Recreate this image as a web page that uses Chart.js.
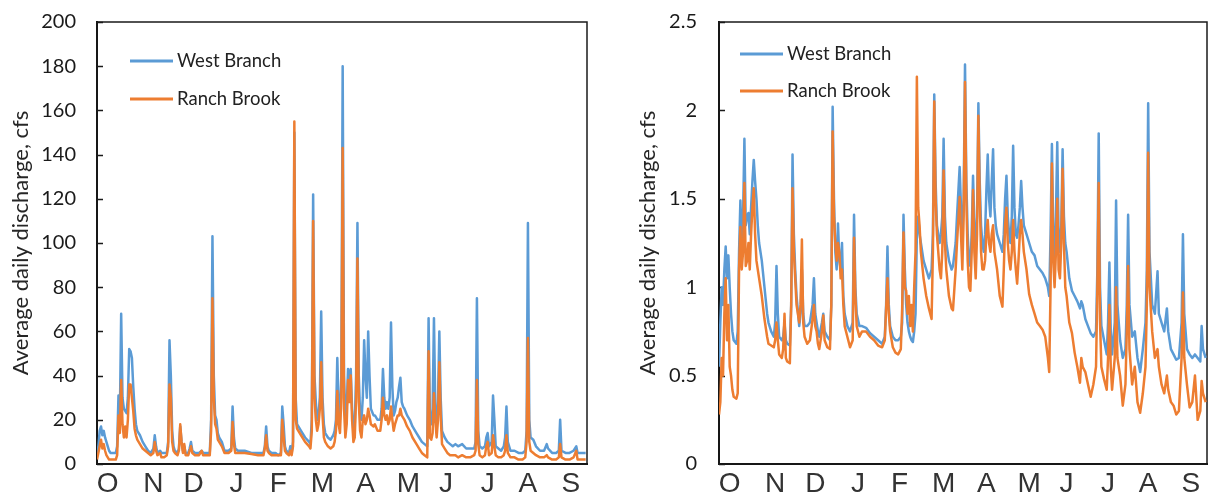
<!DOCTYPE html>
<html>
<head>
<meta charset="utf-8">
<script src="https://cdn.jsdelivr.net/npm/chart.js@4.4.1/dist/chart.umd.min.js"></script>
<style>
  html, body { margin: 0; padding: 0; background: #fff; }
  body { width: 1208px; height: 497px; position: relative; overflow: hidden; }
  canvas { position: absolute; top: 0; }
  #leftChart { left: 0; }
  #rightChart { left: 604px; }
</style>
</head>
<body>
<canvas id="leftChart" width="604" height="497"></canvas>
<canvas id="rightChart" width="604" height="497"></canvas>
<script>
// Month labels and where they sit (day of water year, Oct 1 = 0)
const months = ['O', 'N', 'D', 'J', 'F', 'M', 'A', 'M', 'J', 'J', 'A', 'S'];
const monthDays = [8, 42, 72, 104, 135, 168, 200, 232, 260, 291, 321, 353];

// Left panel: average daily discharge, cfs
const leftDays = [0,1,2,3,4,5,6,7,8,9,10,12,14,15,16,17,18,19,20,21,22,23,24,25,26,27,28,29,30,32,34,36,38,40,42,43,44,45,47,48,50,52,53,54,55,56,57,58,60,61,62,63,64,65,66,68,69,70,71,73,76,78,79,82,84,85,86,87,88,89,90,91,93,95,98,100,101,102,103,105,110,115,120,124,125,126,127,128,130,133,135,137,138,139,140,141,143,144,145,146,147,148,149,150,152,155,158,159,160,161,162,163,164,165,166,167,168,169,170,172,174,176,177,178,179,180,181,182,183,184,185,186,187,188,189,190,191,192,193,194,195,196,197,198,199,200,201,202,203,204,206,207,209,211,212,213,214,215,216,217,218,219,220,221,222,223,224,225,226,227,228,229,231,233,235,238,240,242,244,246,247,248,249,250,251,252,253,254,255,256,257,259,261,263,265,267,269,272,275,278,281,282,283,284,285,287,289,290,291,292,294,295,296,297,299,301,303,304,305,306,308,311,314,317,319,320,321,322,323,325,327,330,333,335,336,339,342,344,345,346,349,352,355,357,358,361,364];
const leftWest = [4,8,15,17,13,15,12,10,8,6,5,5,5,8,31,20,68,30,25,24,23,30,52,51,48,35,25,18,15,13,10,8,6,5,7,13,8,5,6,5,5,5,10,56,40,15,8,6,5,7,17,10,6,8,5,5,7,10,6,5,5,6,5,5,5,20,103,40,22,20,14,12,10,6,6,7,26,12,7,6,6,5,5,5,8,17,8,6,5,5,4,5,26,18,8,6,5,8,5,10,150,30,18,17,15,12,10,9,20,122,40,28,20,22,30,69,30,18,14,12,11,13,15,20,48,25,20,40,180,40,22,25,43,35,43,25,15,18,40,109,40,22,20,30,56,40,30,60,40,25,22,22,20,20,25,43,30,25,28,25,30,64,35,22,24,28,30,35,39,28,26,25,22,20,17,14,12,10,9,8,66,20,18,25,66,25,18,28,60,30,15,12,10,9,8,9,8,9,7,7,7,10,75,15,8,7,8,12,14,8,10,31,20,8,7,6,8,12,26,10,6,6,5,5,6,15,109,20,12,11,8,6,6,9,7,5,5,6,20,6,5,5,6,8,5,5,5];
const leftRanch = [2,5,8,11,7,9,6,4,3,2,2,2,2,4,22,14,38,18,12,17,12,20,36,36,30,24,16,13,11,9,7,6,5,4,5,10,6,4,5,3,3,4,8,36,30,10,6,5,4,6,18,10,5,9,4,4,6,8,5,4,4,6,4,4,4,15,75,30,18,16,11,10,8,5,5,6,19,9,5,5,5,4.5,4,4,7,13,6,5,4,4,4,4,20,12,6,5,4,6,4,8,155,20,16,15,13,10,8,7,15,110,30,20,15,18,25,46,22,12,10,8,7,8,10,15,33,18,14,30,143,25,12,18,38,28,40,20,10,12,30,93,28,15,12,20,22,18,20,25,22,18,17,18,15,15,20,30,22,20,22,18,20,26,20,15,18,20,22,22,25,22,21,20,17,15,12,9,7,5,4,3,51,12,11,14,32,20,12,20,46,22,9,7,5,4,4,4,3,4,3,3,4,6,38,9,4,3,4,8,10,4,5,13,8,4,3,3,4,6,13,5,3,3,2,2,3,10,57,10,6,5,4,3,3,4,3,2,2,3,9,3,2,2,3,6,2,2,2];

// Right panel: average daily discharge, cfs
const rightDays = [0,1,2,3,4,5,6,7,8,9,10,11,13,14,15,16,17,18,19,20,21,22,23,24,25,26,27,28,29,30,32,34,36,37,39,41,42,43,44,45,47,48,49,50,51,53,54,55,56,57,58,60,61,62,63,64,66,68,70,71,72,73,74,75,77,78,79,81,83,84,85,86,87,88,89,90,91,92,93,94,96,98,100,101,102,103,105,107,110,113,116,119,122,124,125,126,127,128,130,132,134,136,137,138,139,140,141,142,143,144,145,146,147,148,149,150,151,153,155,157,159,160,161,162,163,164,165,166,167,168,169,170,172,174,175,177,178,180,181,182,183,184,185,186,187,188,189,190,191,192,193,194,195,196,197,198,199,200,201,202,203,204,205,206,207,208,210,212,213,214,215,216,217,218,219,220,221,222,223,224,225,226,227,228,230,232,234,236,238,240,242,244,246,247,248,249,250,251,252,253,254,255,256,257,258,259,260,262,264,266,268,270,271,272,274,276,278,280,282,283,284,285,286,288,290,291,292,293,294,296,297,298,300,302,304,305,306,307,309,311,313,315,317,319,320,321,322,324,326,328,329,331,333,335,336,338,340,342,344,346,347,348,350,352,354,356,358,360,361,362,364];
const rightWest = [0.55,0.8,1.0,0.9,1.1,1.23,1.05,1.18,1.0,0.85,0.75,0.7,0.68,0.75,1.2,1.49,1.25,1.4,1.84,1.35,1.4,1.42,1.3,1.45,1.6,1.72,1.6,1.5,1.35,1.25,1.15,1.0,0.85,0.8,0.75,0.72,0.8,1.12,0.85,0.72,0.7,0.72,0.8,0.7,0.68,0.67,0.9,1.75,1.3,1.1,0.95,0.78,0.85,1.1,0.85,0.78,0.78,0.8,0.9,1.05,0.85,0.8,0.75,0.72,0.8,0.85,0.75,0.72,0.7,0.9,2.02,1.5,1.2,1.1,1.36,1.15,1.1,1.25,0.95,0.85,0.78,0.75,0.8,1.41,1.0,0.85,0.78,0.78,0.77,0.74,0.72,0.7,0.68,0.72,0.9,1.23,0.9,0.78,0.72,0.7,0.7,0.72,0.8,1.41,1.1,0.9,0.8,0.75,0.72,0.7,0.69,0.75,0.85,1.3,1.4,1.3,1.25,1.15,1.1,1.05,1.1,1.3,2.09,1.6,1.35,1.3,1.25,1.3,1.4,1.84,1.4,1.25,1.15,1.1,1.12,1.25,1.4,1.68,1.45,1.3,1.5,2.26,1.6,1.3,1.15,1.12,1.3,1.63,1.35,1.2,1.4,2.04,1.6,1.35,1.25,1.2,1.3,1.55,1.75,1.5,1.4,1.6,1.78,1.45,1.35,1.3,1.25,1.2,1.3,1.5,1.63,1.4,1.3,1.25,1.4,1.8,1.45,1.3,1.28,1.35,1.45,1.6,1.45,1.35,1.3,1.25,1.2,1.18,1.12,1.1,1.08,1.05,1.0,0.95,1.3,1.81,1.3,1.15,1.4,1.82,1.3,1.2,1.35,1.78,1.4,1.25,1.2,1.05,0.98,0.95,0.92,0.88,0.92,0.9,0.82,0.78,0.74,0.72,0.75,1.1,1.87,1.0,0.78,0.7,0.62,0.8,1.14,0.75,0.62,0.8,1.49,0.9,0.7,0.6,0.65,0.9,1.41,0.9,0.72,0.75,0.6,0.52,0.65,0.8,1.1,2.04,1.2,0.9,0.85,1.09,0.85,0.8,0.75,0.88,0.75,0.65,0.62,0.59,0.6,0.8,1.3,0.85,0.65,0.62,0.6,0.62,0.6,0.58,0.78,0.65,0.6];
const rightRanch = [0.28,0.35,0.6,0.5,0.85,1.05,0.7,0.9,0.55,0.5,0.42,0.38,0.37,0.4,1.1,1.34,1.1,1.2,1.59,1.12,1.15,1.25,1.1,1.3,1.45,1.56,1.3,1.15,1.1,1.05,0.95,0.82,0.72,0.68,0.67,0.66,0.7,0.8,0.7,0.62,0.6,0.65,0.85,0.6,0.58,0.57,0.9,1.56,1.2,1.05,0.9,0.8,0.9,1.27,0.8,0.72,0.68,0.7,0.82,0.9,0.78,0.75,0.68,0.65,0.75,0.84,0.7,0.66,0.65,0.9,1.88,1.4,1.25,1.15,1.25,1.2,1.05,1.1,0.9,0.78,0.72,0.66,0.7,1.28,0.95,0.78,0.72,0.75,0.75,0.72,0.7,0.67,0.66,0.7,0.88,1.05,0.85,0.75,0.66,0.63,0.62,0.65,0.88,1.31,1.0,0.98,0.85,0.95,0.78,0.9,0.75,1.0,1.2,2.19,1.45,1.35,1.2,1.05,0.95,0.88,0.82,1.2,2.05,1.5,1.3,1.2,1.1,1.05,1.2,1.66,1.25,1.1,0.95,0.88,0.87,1.1,1.25,1.51,1.3,1.1,1.4,2.16,1.5,1.15,1.0,0.98,1.2,1.55,1.2,1.05,1.3,1.97,1.5,1.2,1.1,1.1,1.15,1.3,1.38,1.25,1.2,1.3,1.35,1.2,1.15,1.1,0.95,0.89,1.1,1.35,1.45,1.25,1.15,1.1,1.2,1.38,1.2,1.1,1.02,1.15,1.3,1.38,1.3,1.2,1.1,0.96,0.9,0.85,0.8,0.78,0.76,0.72,0.6,0.52,1.0,1.7,1.15,1.0,1.2,1.5,1.1,1.05,1.25,1.67,1.25,1.0,0.95,0.8,0.74,0.63,0.55,0.46,0.6,0.55,0.52,0.45,0.38,0.45,0.55,1.0,1.59,0.8,0.55,0.48,0.42,0.6,0.9,0.55,0.42,0.6,1.0,0.6,0.5,0.33,0.45,0.75,1.12,0.65,0.45,0.55,0.35,0.29,0.4,0.55,0.9,1.76,1.0,0.75,0.6,0.65,0.55,0.45,0.4,0.5,0.42,0.35,0.33,0.28,0.3,0.6,0.97,0.6,0.45,0.32,0.35,0.5,0.25,0.3,0.47,0.4,0.35];

const BLUE = '#5B9BD5';
const ORANGE = '#ED7D31';

function toPoints(days, values) {
    return days.map((d, i) => ({ x: d, y: values[i] }));
}

// Box round the plot area, inward y tick marks, and the in-plot legend
const frameLegend = {
    id: 'frameLegend',
    beforeDatasetsDraw(chart) {
        const { ctx, chartArea: a } = chart;
        const yScale = chart.scales.y;
        ctx.save();
        ctx.strokeStyle = '#1a1a1a';
        ctx.lineWidth = 1.5;
        ctx.strokeRect(a.left, a.top, a.right - a.left, a.bottom - a.top);
        ctx.beginPath();
        yScale.ticks.forEach(t => {
            const py = Math.round(yScale.getPixelForValue(t.value)) + 0.5;
            ctx.moveTo(a.left, py);
            ctx.lineTo(a.left + 6, py);
        });
        ctx.stroke();
        ctx.restore();
    },
    afterDatasetsDraw(chart, args, opts) {
        const { ctx, chartArea: a } = chart;
        ctx.save();
        chart.data.datasets.forEach((ds, i) => {
            const x = a.left + opts.x;
            const y = a.top + opts.y + i * opts.gap;
            ctx.strokeStyle = ds.borderColor;
            ctx.lineWidth = 3;
            ctx.beginPath();
            ctx.moveTo(x, y);
            ctx.lineTo(x + 43, y);
            ctx.stroke();
            ctx.fillStyle = '#222';
            ctx.font = '18.5px Lato';
            ctx.textBaseline = 'middle';
            ctx.fillText(ds.label, x + 47, y);
        });
        ctx.restore();
    }
};

function makeChart(id, days, west, ranch, yMax, yStep, cfg) {
    return new Chart(document.getElementById(id), {
        type: 'line',
        data: {
            datasets: [
                {
                    label: 'West Branch',
                    data: toPoints(days, west),
                    borderColor: BLUE,
                    borderWidth: 2.5,
                    borderJoinStyle: 'round',
                    pointRadius: 0,
                    tension: 0,
                    order: 2
                },
                {
                    label: 'Ranch Brook',
                    data: toPoints(days, ranch),
                    borderColor: ORANGE,
                    borderWidth: 2.5,
                    borderJoinStyle: 'round',
                    pointRadius: 0,
                    tension: 0,
                    order: 1
                }
            ]
        },
        options: {
            responsive: false,
            animation: false,
            devicePixelRatio: 1,
            layout: { padding: { left: 0, right: cfg.padRight, top: 22, bottom: 0 } },
            plugins: {
                legend: { display: false },
                tooltip: { enabled: false },
                frameLegend: { x: cfg.legendX, y: cfg.legendY, gap: cfg.legendGap }
            },
            scales: {
                x: {
                    type: 'linear',
                    min: 0,
                    max: 365,
                    afterBuildTicks: scale => {
                        scale.ticks = monthDays.map(v => ({ value: v }));
                    },
                    afterFit: scale => { scale.height = 33; },
                    ticks: {
                        autoSkip: false,
                        maxRotation: 0,
                        padding: 3,
                        color: '#333',
                        font: { family: 'Liberation Sans', size: 28 },
                        callback: (v, i) => months[i]
                    },
                    grid: { display: false, drawTicks: false },
                    border: { display: true, color: '#111', width: 2 }
                },
                y: {
                    min: 0,
                    max: yMax,
                    afterFit: scale => { scale.width = cfg.yWidth; },
                    ticks: {
                        stepSize: yStep,
                        padding: 4,
                        color: '#1a1a1a',
                        font: { family: 'Lato', size: 20 },
                        callback: v => String(Number(v.toFixed(1)))
                    },
                    grid: { drawOnChartArea: false, tickLength: cfg.labelGap - 4, tickColor: 'rgba(0,0,0,0)' },
                    border: { display: true, color: '#111', width: 2 },
                    title: {
                        display: true,
                        text: 'Average daily discharge, cfs',
                        color: '#262626',
                        font: { family: 'Lato', size: 22 },
                        padding: { top: cfg.titlePad, bottom: 0 }
                    }
                }
            }
        },
        plugins: [frameLegend]
    });
}

makeChart('leftChart', leftDays, leftWest, leftRanch, 200, 20,
    { padRight: 17, yWidth: 97, labelGap: 21, titlePad: 8, legendX: 33, legendY: 39, legendGap: 38 });
makeChart('rightChart', rightDays, rightWest, rightRanch, 2.5, 0.5,
    { padRight: 1, yWidth: 115, labelGap: 22, titlePad: 31, legendX: 21, legendY: 32, legendGap: 37 });
</script>
</body>
</html>
